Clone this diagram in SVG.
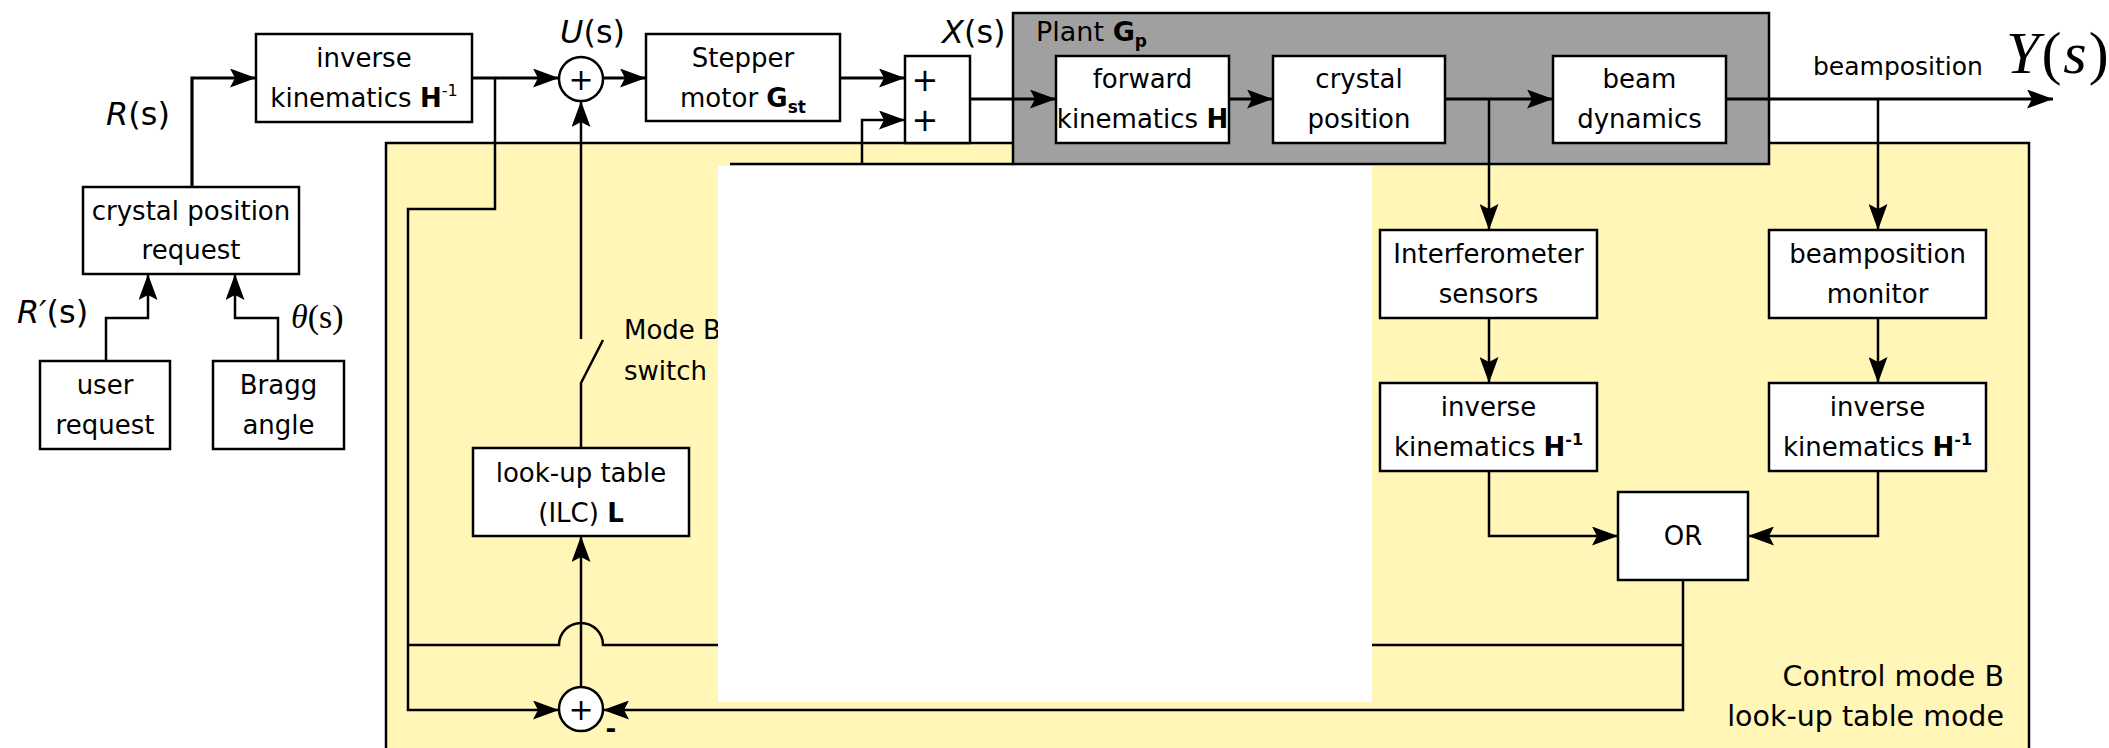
<svg xmlns="http://www.w3.org/2000/svg" width="2109" height="748" viewBox="0 0 2109 748">
<style>
.box{fill:#fff;stroke:#000;stroke-width:2.5}
.t{font-family:"DejaVu Sans",Verdana,sans-serif;font-size:26px;fill:#000;text-anchor:middle}
.l{font-family:"DejaVu Sans",Verdana,sans-serif;font-size:32px;fill:#000}
.m{font-family:"Liberation Serif","Times New Roman",serif;fill:#000}
.b{font-weight:bold}
.ln{fill:none;stroke:#000;stroke-width:2.5}
.tk{stroke-width:3.2}
</style>
<defs>
<marker id="ah" markerUnits="userSpaceOnUse" markerWidth="26" markerHeight="19" refX="26" refY="9.5" orient="auto" viewBox="0 0 26 19"><path d="M0,0 L26,9.5 L0,19 L5,9.5 Z" fill="#000"/></marker>
</defs>
<rect x="0" y="0" width="2109" height="748" fill="#fff"/>
<g id="region-modeB">
<rect x="386" y="143" width="1643" height="640" fill="#FFF6B8" stroke="#000" stroke-width="2.5"/>
<text class="t" style="font-size:28.5px;text-anchor:end" x="2004" y="686">Control mode B</text>
<text class="t" style="font-size:28.5px;text-anchor:end" x="2004" y="726">look-up table mode</text>
</g>
<g id="plant">
<rect x="1013" y="13" width="756" height="151" fill="#A0A0A0" stroke="#000" stroke-width="2.5"/>
<text class="t" style="font-size:27px;text-anchor:start" x="1036" y="41">Plant <tspan class="b">G</tspan><tspan class="b" font-size="17" dy="6">p</tspan></text>
</g>
<g id="connectors">
<path class="ln tk" d="M192,187 V78 H256" marker-end="url(#ah)"/>
<path class="ln tk" d="M472,78 H559" marker-end="url(#ah)"/>
<path class="ln tk" d="M603,78 H646" marker-end="url(#ah)"/>
<path class="ln tk" d="M840,78 H905" marker-end="url(#ah)"/>
<path class="ln tk" d="M970,99 H1056" marker-end="url(#ah)"/>
<path class="ln tk" d="M1229,99 H1273" marker-end="url(#ah)"/>
<path class="ln tk" d="M1445,99 H1553" marker-end="url(#ah)"/>
<path class="ln tk" d="M1726,99 H2053" marker-end="url(#ah)"/>
<path class="ln" d="M106,361 V318 H148 V274" marker-end="url(#ah)"/>
<path class="ln" d="M278,361 V318 H235 V274" marker-end="url(#ah)"/>
<path class="ln" d="M495,78 V209 H408 V710 H559" marker-end="url(#ah)"/>
<path class="ln" d="M581,339 V101" marker-end="url(#ah)"/>
<path class="ln" d="M581,448 V383 L603,340"/>
<path class="ln" d="M581,687 V536" marker-end="url(#ah)"/>
<path class="ln" d="M408,645 H559 A22,22 0 0 1 603,645 H1683"/>
<path class="ln" d="M1683,580 V710 H603" marker-end="url(#ah)"/>
<path class="ln" d="M1489,99 V230" marker-end="url(#ah)"/>
<path class="ln" d="M1878,99 V230" marker-end="url(#ah)"/>
<path class="ln" d="M1489,318 V383" marker-end="url(#ah)"/>
<path class="ln" d="M1878,318 V383" marker-end="url(#ah)"/>
<path class="ln" d="M1489,471 V536 H1618" marker-end="url(#ah)"/>
<path class="ln" d="M1878,471 V536 H1748" marker-end="url(#ah)"/>
<path class="ln" d="M730,164 H1013"/>
<path class="ln" d="M862,164 V120 H905" marker-end="url(#ah)"/>
</g>
<g id="labels">
<text class="l" x="560" y="43"><tspan font-style="italic">U</tspan>(s)</text>
<text class="l" x="942" y="43"><tspan font-style="italic">X</tspan>(s)</text>
<text class="l" x="106" y="125"><tspan font-style="italic">R</tspan>(s)</text>
<text class="l" x="17" y="323"><tspan font-style="italic">R′</tspan>(s)</text>
<text class="m" font-size="34" x="291" y="328"><tspan font-style="italic">θ</tspan>(s)</text>
<text class="m" font-size="60" letter-spacing="2" x="2006" y="73"><tspan font-style="italic">Y</tspan>(<tspan font-style="italic">s</tspan>)</text>
<text class="t" style="font-size:25px;text-anchor:start" x="1813" y="75">beamposition</text>
<text class="t" style="text-anchor:start" x="624" y="339">Mode B</text>
<text class="t" style="text-anchor:start" x="624" y="380">switch</text>
<text class="t b" x="611" y="738">-</text>
</g>
<g id="inv-kin-top">
<rect class="box" x="256" y="34" width="216" height="88"/>
<text class="t" x="364" y="67">inverse</text>
<text class="t" x="364" y="107">kinematics <tspan class="b">H</tspan><tspan font-size="16" dy="-11">-1</tspan></text>
</g>
<g id="sum-top">
<circle cx="581" cy="79" r="22" fill="#fff" stroke="#000" stroke-width="2.5"/>
<text class="t" style="font-size:30px" x="581" y="90">+</text>
</g>
<g id="stepper">
<rect class="box" x="646" y="34" width="194" height="87"/>
<text class="t" x="743" y="67">Stepper</text>
<text class="t" x="743" y="107">motor <tspan class="b">G</tspan><tspan class="b" font-size="17" dy="6">st</tspan></text>
</g>
<g id="junction">
<rect class="box" x="905" y="56" width="65" height="87"/>
<text class="t" style="font-size:32px" x="925" y="91">+</text>
<text class="t" style="font-size:32px" x="925" y="131">+</text>
</g>
<g id="crystal-request">
<rect class="box" x="83" y="187" width="216" height="87"/>
<text class="t" x="191" y="220">crystal position</text>
<text class="t" x="191" y="259">request</text>
</g>
<g id="user-request">
<rect class="box" x="40" y="361" width="130" height="88"/>
<text class="t" x="105" y="394">user</text>
<text class="t" x="105" y="434">request</text>
</g>
<g id="bragg">
<rect class="box" x="213" y="361" width="131" height="88"/>
<text class="t" x="278.5" y="394">Bragg</text>
<text class="t" x="278.5" y="434">angle</text>
</g>
<g id="lookup">
<rect class="box" x="473" y="448" width="216" height="88"/>
<text class="t" x="581" y="482">look-up table</text>
<text class="t" x="581" y="522">(ILC) <tspan class="b">L</tspan></text>
</g>
<g id="sum-bottom">
<circle cx="581" cy="709" r="22" fill="#fff" stroke="#000" stroke-width="2.5"/>
<text class="t" style="font-size:30px" x="581" y="720">+</text>
</g>
<g id="forward-kin">
<rect class="box" x="1056" y="56" width="173" height="87"/>
<text class="t" x="1142.5" y="88">forward</text>
<text class="t" x="1142.5" y="128">kinematics <tspan class="b">H</tspan></text>
</g>
<g id="crystal-position">
<rect class="box" x="1273" y="56" width="172" height="87"/>
<text class="t" x="1359" y="88">crystal</text>
<text class="t" x="1359" y="128">position</text>
</g>
<g id="beam-dynamics">
<rect class="box" x="1553" y="56" width="173" height="87"/>
<text class="t" x="1639.5" y="88">beam</text>
<text class="t" x="1639.5" y="128">dynamics</text>
</g>
<g id="interferometer">
<rect class="box" x="1380" y="230" width="217" height="88"/>
<text class="t" x="1488.5" y="263">Interferometer</text>
<text class="t" x="1488.5" y="303">sensors</text>
</g>
<g id="bp-monitor">
<rect class="box" x="1769" y="230" width="217" height="88"/>
<text class="t" x="1877.5" y="263">beamposition</text>
<text class="t" x="1877.5" y="303">monitor</text>
</g>
<g id="inv-kin-left">
<rect class="box" x="1380" y="383" width="217" height="88"/>
<text class="t" x="1488.5" y="416">inverse</text>
<text class="t" x="1488.5" y="456">kinematics <tspan class="b">H</tspan><tspan class="b" font-size="16" dy="-11">-1</tspan></text>
</g>
<g id="inv-kin-right">
<rect class="box" x="1769" y="383" width="217" height="88"/>
<text class="t" x="1877.5" y="416">inverse</text>
<text class="t" x="1877.5" y="456">kinematics <tspan class="b">H</tspan><tspan class="b" font-size="16" dy="-11">-1</tspan></text>
</g>
<g id="or">
<rect class="box" x="1618" y="492" width="130" height="88"/>
<text class="t" x="1683" y="545">OR</text>
</g>
<rect id="redaction" x="718" y="166" width="654" height="536" fill="#fff"/>
</svg>
